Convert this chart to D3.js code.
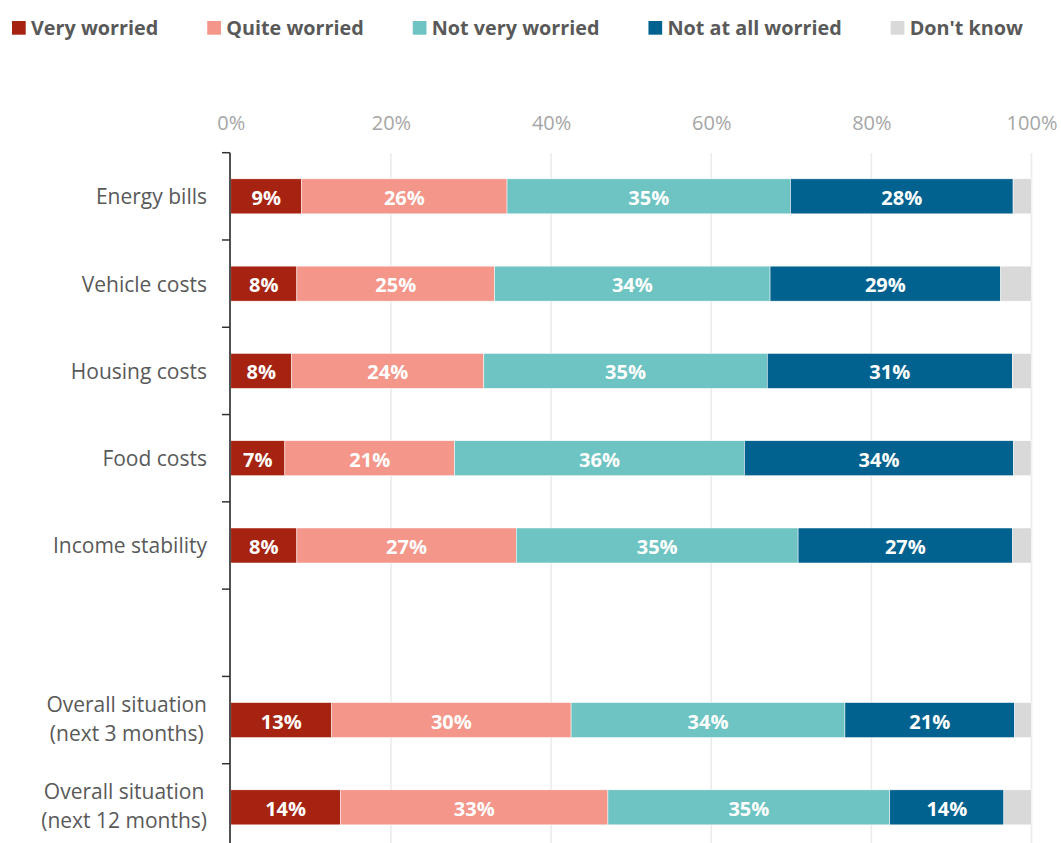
<!DOCTYPE html>
<html>
<head>
<meta charset="utf-8">
<script src="https://cdn.jsdelivr.net/npm/d3@7"></script>
<style>
  html, body { margin: 0; padding: 0; background: #fff; overflow: hidden; }
  svg { display: block; font-family: "Open Sans", "Noto Sans", sans-serif; }
</style>
</head>
<body>
<svg id="chart" width="1061" height="843"></svg>
<script>
// Survey categories (a blank slot separates the two groups)
const categories = [
  "Energy bills", "Vehicle costs", "Housing costs", "Food costs", "Income stability",
  "Overall situation (next 3 months)", "Overall situation (next 12 months)"
];
const bandSlots = [
  "Energy bills", "Vehicle costs", "Housing costs", "Food costs", "Income stability",
  "", "Overall situation (next 3 months)", "Overall situation (next 12 months)"
];

// Response shares, percent
const veryWorried     = [8.85, 8.25, 7.6, 6.75, 8.25, 12.6, 13.7];
const quiteWorried    = [25.65, 24.7, 24.0, 21.2, 27.4, 29.9, 33.4];
const notVeryWorried  = [35.4, 34.4, 35.4, 36.2, 35.2, 34.2, 35.2];
const notAtAllWorried = [27.8, 28.8, 30.6, 33.6, 26.8, 21.2, 14.25];
const dontKnow        = [2.3, 3.85, 2.4, 2.2, 2.35, 2.1, 3.45];

const seriesNames  = ["Very worried", "Quite worried", "Not very worried", "Not at all worried", "Don't know"];
const seriesColors = ["#A62311", "#F4968A", "#6EC4C2", "#02628F", "#D9D9D9"];
const labelledSeries = [true, true, true, true, false];

const xTicks = [0, 20, 40, 60, 80, 100];

const rows = categories.map((c, i) => ({
  category: c,
  "Very worried": veryWorried[i],
  "Quite worried": quiteWorried[i],
  "Not very worried": notVeryWorried[i],
  "Not at all worried": notAtAllWorried[i],
  "Don't know": dontKnow[i]
}));

const svg = d3.select("#chart");

const x = d3.scaleLinear().domain([0, 100]).range([230.8, 1031.5]);
const y = d3.scaleBand().domain(bandSlots).range([152.7, 851]).padding(0);
const barH = 35;
const color = d3.scaleOrdinal().domain(seriesNames).range(seriesColors);

// Vertical gridlines
svg.append("g")
  .selectAll("line")
  .data(xTicks.filter(t => t > 0))
  .join("line")
  .attr("x1", d => x(d)).attr("x2", d => x(d))
  .attr("y1", 153).attr("y2", 851)
  .attr("stroke", "#ececec")
  .attr("stroke-width", 1.6);

// Top axis tick labels
const xAxis = svg.append("g")
  .attr("transform", "translate(0,130)")
  .call(d3.axisTop(x).tickValues(xTicks).tickFormat(d => d + "%").tickSize(0).tickPadding(0));
xAxis.select(".domain").remove();
xAxis.selectAll("text")
  .attr("fill", "#a6a6a6")
  .attr("font-size", "20px")
  .attr("font-family", "'Open Sans', sans-serif");

// Stacked bars
const stack = d3.stack().keys(seriesNames);
const stacked = stack(rows);

const layers = svg.append("g")
  .selectAll("g")
  .data(stacked)
  .join("g")
  .attr("fill", d => color(d.key));

layers.selectAll("rect")
  .data(d => d.map(p => ({ key: d.key, p })))
  .join("rect")
  .attr("x", d => x(d.p[0]))
  .attr("width", d => x(d.p[1]) - x(d.p[0]))
  .attr("y", d => y(d.p.data.category) + (y.bandwidth() - barH) / 2)
  .attr("height", barH)
  .attr("stroke", "#ffffff")
  .attr("stroke-width", 0.5);

// Value labels inside segments
stacked.forEach((layer, si) => {
  if (!labelledSeries[si]) return;
  svg.append("g")
    .selectAll("text")
    .data(layer)
    .join("text")
    .attr("x", d => (x(d[0]) + x(d[1])) / 2)
    .attr("y", d => y(d.data.category) + y.bandwidth() / 2 + 1)
    .attr("text-anchor", "middle")
    .attr("dominant-baseline", "central")
    .attr("fill", "#ffffff")
    .attr("font-weight", 700)
    .attr("font-size", "20px")
    .text(d => Math.round(d[1] - d[0]) + "%");
});

// Left axis line with band ticks
const yAxis = svg.append("g")
  .attr("transform", `translate(${230},0)`);
yAxis.append("line")
  .attr("x1", 0).attr("x2", 0)
  .attr("y1", 152.7).attr("y2", 851)
  .attr("stroke", "#333")
  .attr("stroke-width", 1.7);
yAxis.selectAll("line.tick")
  .data(bandSlots)
  .join("line")
  .attr("class", "tick")
  .attr("x1", -8).attr("x2", 0)
  .attr("y1", d => y(d)).attr("y2", d => y(d))
  .attr("stroke", "#333")
  .attr("stroke-width", 1.5);

// Category labels (two-line labels are centred within their block, block right-aligned)
const labelRight = 207;
const lineGap = 29;
const catG = svg.append("g")
  .attr("fill", "#595959")
  .attr("font-size", "21px");
categories.forEach(c => {
  const lines = c.includes(" (") ? [c.slice(0, c.indexOf(" (")), c.slice(c.indexOf(" (") + 1)] : [c];
  const cy = y(c) + y.bandwidth() / 2;
  const t = catG.append("text").attr("dominant-baseline", "central");
  lines.forEach((ln, i) => {
    t.append("tspan")
      .attr("y", cy + (i - (lines.length - 1) / 2) * lineGap - (lines.length > 1 ? 1.5 : 0))
      .text(ln);
  });
  const widths = [];
  t.selectAll("tspan").each(function () { widths.push(this.getComputedTextLength()); });
  const maxW = d3.max(widths);
  if (lines.length === 1) {
    t.attr("text-anchor", "end").selectAll("tspan").attr("x", labelRight);
  } else {
    t.attr("text-anchor", "middle").selectAll("tspan").attr("x", labelRight - maxW / 2);
  }
});

// Legend: items spread across the full width, first swatch at left, last label at right
const legend = svg.append("g");
const legendLeft = 12, legendRight = 1023, swatch = 13.7, swatchGap = 5.3;
const legendItems = seriesNames.map((name, i) => {
  const g = legend.append("g");
  g.append("rect")
    .attr("y", 21)
    .attr("width", swatch).attr("height", swatch)
    .attr("fill", seriesColors[i]);
  const t = g.append("text")
    .attr("x", swatch + swatchGap)
    .attr("y", 35)
    .attr("fill", "#595959")
    .attr("font-weight", 700)
    .attr("font-size", "19.8px")
    .text(name);
  return { g, w: swatch + swatchGap + t.node().getComputedTextLength() };
});
const totalW = d3.sum(legendItems, d => d.w);
const itemGap = (legendRight - legendLeft - totalW) / (legendItems.length - 1);
let lx = legendLeft;
legendItems.forEach(item => {
  item.g.attr("transform", `translate(${lx},0)`);
  lx += item.w + itemGap;
});
</script>
</body>
</html>
